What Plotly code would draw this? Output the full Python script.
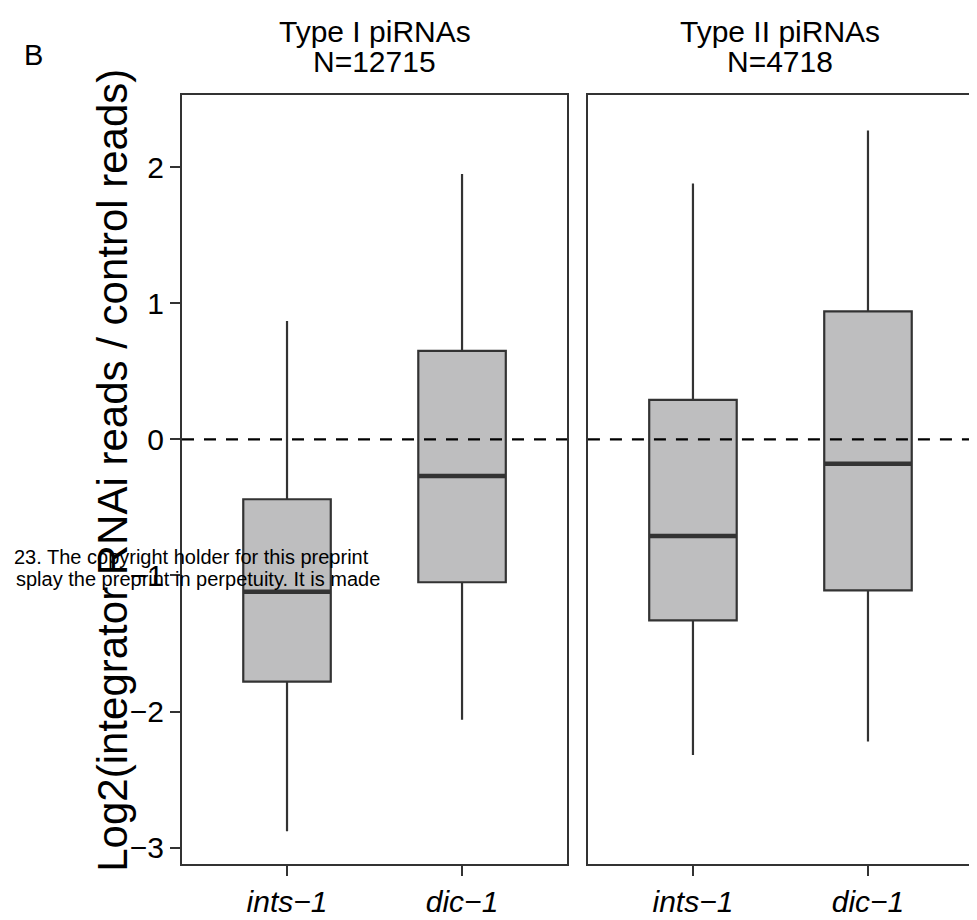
import plotly.graph_objects as go

categories = ["ints\u22121", "dic\u22121"]
panel_names = ["Type I piRNAs", "Type II piRNAs"]
panel_counts = ["N=12715", "N=4718"]

# per panel: [ints-1, dic-1]
upper_whisker = [[0.87, 1.95], [1.88, 2.27]]
q3_vals = [[-0.44, 0.65], [0.29, 0.94]]
median_vals = [[-1.12, -0.27], [-0.71, -0.18]]
q1_vals = [[-1.78, -1.05], [-1.33, -1.11]]
lower_whisker = [[-2.88, -2.06], [-2.32, -2.22]]

y_ticks = [-3, -2, -1, 0, 1, 2]
y_ticktext = ["\u22123", "\u22122", "\u22121", "0", "1", "2"]

BOX_W = 0.5
LINE = "#333333"
FILL = "#BEBEBF"
FONT = "Liberation Sans, Arial, sans-serif"

fig = go.Figure()
xs = ["x", "x2"]
ys = ["y", "y2"]
for p in range(2):
    for i in range(2):
        fig.add_trace(go.Box(
            x=[i], q1=[q1_vals[p][i]], median=[median_vals[p][i]], q3=[q3_vals[p][i]],
            lowerfence=[lower_whisker[p][i]], upperfence=[upper_whisker[p][i]],
            width=BOX_W, fillcolor=FILL, line=dict(color=LINE, width=2.2),
            whiskerwidth=0, boxpoints=False, showlegend=False,
            xaxis=xs[p], yaxis=ys[p], hoverinfo="skip"))
        fig.add_trace(go.Scatter(
            x=[i - BOX_W / 2, i + BOX_W / 2], y=[median_vals[p][i]] * 2,
            mode="lines", line=dict(color=LINE, width=4.5), showlegend=False,
            xaxis=xs[p], yaxis=ys[p], hoverinfo="skip"))
    fig.add_trace(go.Scatter(
        x=[-0.6, 1.6], y=[0, 0], mode="lines",
        line=dict(color="black", width=2.2, dash="12px,10px"), showlegend=False,
        xaxis=xs[p], yaxis=ys[p], hoverinfo="skip"))

axis_common = dict(showline=True, mirror=True, linecolor=LINE, linewidth=2.2,
                   showgrid=False, zeroline=False)
xr = [-0.6, 1.6]
yr = [-3.12, 2.53]
TICKF = dict(size=30, family=FONT, color="black")
fig.update_layout(
    width=969, height=912, plot_bgcolor="white", paper_bgcolor="white",
    margin=dict(l=174, r=2, t=87, b=51),
    font=dict(family=FONT, color="black"),
    xaxis=dict(domain=[0, 0.4868], range=xr, tickvals=[0, 1], ticktext=categories,
               ticks="outside", ticklen=10, tickwidth=2.2, tickcolor=LINE,
               tickfont=dict(TICKF, style="italic"), **axis_common),
    xaxis2=dict(domain=[0.5132, 1], range=xr, tickvals=[0, 1], ticktext=categories,
                ticks="outside", ticklen=10, tickwidth=2.2, tickcolor=LINE,
                tickfont=dict(TICKF, style="italic"), anchor="y2", **axis_common),
    yaxis=dict(range=yr, tickvals=y_ticks, ticktext=y_ticktext, ticks="outside",
               ticklen=10, tickwidth=2.2, tickcolor=LINE,
               tickfont=TICKF, **axis_common),
    yaxis2=dict(range=yr, showticklabels=False, ticks="", anchor="x2", **axis_common),
)

def py(page_y):
    return (869 - page_y) / 774

def px(page_x):
    return (page_x - 182) / 793

annotations = []
for k, cx in enumerate([0.2434, 0.7566]):
    annotations.append(dict(text=panel_names[k], x=cx, y=py(31), xref="paper", yref="paper",
                            xanchor="center", yanchor="middle", showarrow=False,
                            font=dict(size=30, family=FONT)))
    annotations.append(dict(text=panel_counts[k], x=cx, y=py(61), xref="paper", yref="paper",
                            xanchor="center", yanchor="middle", showarrow=False,
                            font=dict(size=30, family=FONT)))
annotations += [
    dict(text="B", x=px(33), y=py(55), xref="paper", yref="paper",
         xanchor="center", yanchor="middle", showarrow=False,
         font=dict(size=29, family=FONT)),
    dict(text="Log2(integrator RNAi reads / control reads)", textangle=-90,
         x=px(112), y=py(473), xref="paper", yref="paper",
         xanchor="center", yanchor="middle", showarrow=False,
         font=dict(size=42, family=FONT)),
    dict(text="23. The copyright holder for this preprint", x=px(371),
         y=py(560), xref="paper", yref="paper", xanchor="right",
         yanchor="middle", showarrow=False, font=dict(size=20, family=FONT)),
    dict(text="splay the preprint in perpetuity. It is made", x=px(383),
         y=py(582), xref="paper", yref="paper", xanchor="right",
         yanchor="middle", showarrow=False, font=dict(size=20, family=FONT)),
]
fig.update_layout(annotations=annotations)
fig.write_html("out.html")
